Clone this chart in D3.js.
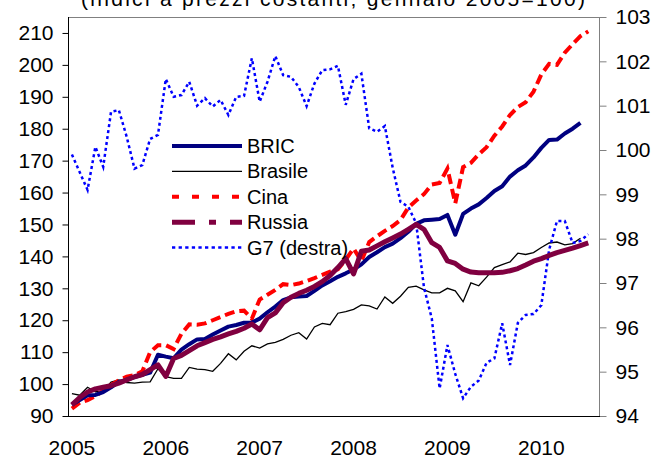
<!DOCTYPE html>
<html>
<head>
<meta charset="utf-8">
<script src="https://cdn.jsdelivr.net/npm/d3@7"></script>
<style>
  body { margin: 0; background: #fff; }
  svg text { font-family: "Liberation Sans", Arial, sans-serif; fill: #000; }
</style>
</head>
<body>
<script>
var width = 666;
var height = 458;

// monthly data, January 2005 = index 0
var years = ["2005", "2006", "2007", "2008", "2009", "2010"];
var leftTicks = [90, 100, 110, 120, 130, 140, 150, 160, 170, 180, 190, 200, 210];
var rightTicks = [94, 95, 96, 97, 98, 99, 100, 101, 102, 103];

var bric = [93.5, 95.0, 96.5, 96.6, 97.5, 99.0, 100.7, 101.3, 102.2, 102.9,
  103.6, 109.2, 108.6, 108.1, 110.8, 112.5, 114.0, 114.1, 115.5, 116.8,
  118.0, 118.5, 119.2, 119.3, 120.5, 122.5, 124.3, 126.3, 127.2, 127.4,
  127.6, 129.2, 130.9, 132.2, 133.6, 134.7, 135.9, 137.5, 139.8, 141.3,
  142.9, 144.0, 145.7, 147.7, 150.2, 151.3, 151.5, 151.7, 153.0, 146.8,
  153.3, 155.0, 156.3, 158.3, 160.5, 162.0, 165.0, 167.0, 168.5, 171.0,
  174.0, 176.5, 176.6, 178.5, 180.0, 181.8];
var brasile = [97.0, 96.5, 99.0, 97.6, 97.8, 100.6, 101.3, 100.5, 100.3, 100.6,
  100.7, 104.8, 102.3, 101.8, 101.8, 105.2, 104.7, 104.5, 104.0, 106.5,
  109.5, 107.6, 110.3, 112.0, 111.3, 112.6, 113.1, 114.0, 115.3, 116.1,
  114.1, 117.9, 119.0, 118.6, 122.2, 122.7, 123.4, 124.8, 124.5, 123.5,
  127.3, 125.3, 127.5, 130.3, 130.7, 129.5, 128.6, 128.6, 130.0, 129.2,
  125.8, 131.7, 130.8, 133.5, 136.5, 137.4, 138.3, 141.0, 140.6, 141.2,
  142.8, 144.2, 144.5, 143.6, 144.0, 145.7];
var cina = [92.3, 94.2, 95.0, 96.2, 98.0, 99.7, 101.2, 102.3, 102.8, 104.0,
  110.0, 112.2, 112.2, 111.0, 115.8, 118.7, 118.6, 119.0, 120.0, 121.0,
  122.0, 122.8, 123.0, 120.5, 126.5, 128.0, 129.5, 131.3, 131.0, 131.5,
  132.3, 133.2, 134.2, 135.2, 136.0, 139.0, 142.5, 138.5, 144.5, 146.3,
  148.0, 149.5, 151.4, 155.3, 157.5, 159.5, 162.5, 163.0, 167.5, 156.6,
  168.0, 169.3, 172.0, 174.2, 177.8, 180.7, 184.3, 186.8, 188.3, 191.6,
  197.0, 200.3, 200.0, 203.8, 206.5, 209.0, 210.5];
var russia = [93.5, 95.8, 97.5, 98.5, 99.0, 99.5, 100.3, 101.3, 102.3, 103.0,
  104.5, 106.0, 102.4, 108.0, 109.0, 110.5, 112.0, 113.0, 114.0, 114.8,
  115.7, 116.5, 117.5, 118.8, 117.0, 120.8, 122.3, 125.5, 127.2, 128.4,
  129.4, 130.6, 132.1, 134.0, 136.5, 139.3, 134.5, 141.6, 142.0, 143.3,
  144.6, 145.8, 147.0, 148.5, 150.0, 148.5, 144.3, 142.8, 138.6, 137.8,
  136.0, 135.1, 134.9, 134.9, 134.9, 135.0, 135.5, 136.2, 137.3, 138.5,
  139.3, 140.3, 141.2, 141.9, 142.6, 143.4, 144.2];
var g7 = [99.9, 99.5, 99.1, 100.07, 99.62, 100.86, 100.9, 100.3, 99.58, 99.66,
  100.25, 100.34, 101.6, 101.2, 101.24, 101.54, 101.0, 101.17, 100.98, 101.13,
  100.79, 101.2, 101.22, 102.07, 101.09, 101.54, 102.12, 101.69, 101.65, 101.42,
  100.99, 101.5, 101.8, 101.82, 101.9, 101.02, 101.6, 101.72, 100.49, 100.41,
  100.54, 99.6, 98.83, 98.72, 98.35, 96.9, 96.2, 94.62, 95.6, 94.95,
  94.4, 94.66, 94.8, 95.2, 95.3, 96.09, 95.15, 96.1, 96.28, 96.3,
  96.5, 97.75, 98.4, 98.4, 97.9, 97.95, 98.1];

// plot area (don't use "top", it clashes with window.top)
var plotL = 68, plotR = 600, plotT = 17, plotB = 416;

var x = d3.scaleLinear().domain([-0.5, 67.5]).range([plotL, plotR]);
var y = d3.scaleLinear().domain([90, 215]).range([plotB, plotT]);
var y2 = d3.scaleLinear().domain([94, 103]).range([plotB, plotT]);

var svg = d3.select("body").append("svg")
    .attr("width", width)
    .attr("height", height);

// cut-off subtitle at the very top
svg.append("text")
  .attr("x", 81)
  .attr("y", 6)
  .attr("textLength", 504)
  .attr("lengthAdjust", "spacing")
  .style("font-size", "21px")
  .text("(indici a prezzi costanti; gennaio 2005=100)");

// frame top
svg.append("line")
  .attr("x1", plotL).attr("x2", plotR)
  .attr("y1", plotT + 0.5).attr("y2", plotT + 0.5)
  .attr("stroke", "#808080").attr("stroke-width", 1);

// left axis
var yAxis = d3.axisLeft(y).tickValues(leftTicks).tickSize(6).tickPadding(9);
var gl = svg.append("g")
  .attr("transform", "translate(" + (plotL + 0.5) + ",0)")
  .call(yAxis);
gl.select(".domain").attr("d", "M0," + plotT + "V" + plotB).attr("stroke", "#000");
gl.selectAll("text").style("font-size", "21px");

// right axis
var yAxis2 = d3.axisRight(y2).tickValues(rightTicks).tickSize(7).tickPadding(9);
var gr = svg.append("g")
  .attr("transform", "translate(" + (plotR - 0.5) + ",0)")
  .call(yAxis2);
gr.select(".domain").attr("d", "M0," + plotT + "V" + plotB).attr("stroke", "#808080");
gr.selectAll(".tick line").attr("stroke", "#808080");
gr.selectAll("text").style("font-size", "21px");

// bottom axis
svg.append("line")
  .attr("x1", plotL).attr("x2", plotR)
  .attr("y1", plotB + 0.5).attr("y2", plotB + 0.5)
  .attr("stroke", "#000").attr("stroke-width", 1.2);

svg.selectAll(".year")
  .data(years)
  .enter()
  .append("text")
  .attr("class", "year")
  .attr("x", function(d, i) { return x(i * 12); })
  .attr("y", 455)
  .attr("text-anchor", "middle")
  .style("font-size", "21px")
  .text(function(d) { return d; });

var line = d3.line()
  .x(function(d, i) { return x(i); })
  .y(function(d) { return y(d); });
var line2 = d3.line()
  .x(function(d, i) { return x(i); })
  .y(function(d) { return y2(d); });

var plot = svg.append("g");

plot.append("path").datum(brasile)
  .attr("d", line)
  .attr("fill", "none").attr("stroke", "#000").attr("stroke-width", 1.3);

plot.append("path").datum(g7)
  .attr("d", line2)
  .attr("fill", "none").attr("stroke", "#0000ff").attr("stroke-width", 2.5)
  .attr("stroke-dasharray", "3,3");

plot.append("path").datum(cina)
  .attr("d", line)
  .attr("fill", "none").attr("stroke", "#ff0000").attr("stroke-width", 4)
  .attr("stroke-dasharray", "10,5");

plot.append("path").datum(bric)
  .attr("d", line)
  .attr("fill", "none").attr("stroke", "#000080").attr("stroke-width", 4)
  .attr("stroke-linejoin", "round");

plot.append("path").datum(russia)
  .attr("d", line)
  .attr("fill", "none").attr("stroke", "#800040").attr("stroke-width", 5)
  .attr("stroke-linejoin", "round");

// legend
var legendItems = [
  {name: "BRIC", color: "#000080", w: 4, dash: null},
  {name: "Brasile", color: "#000", w: 1.3, dash: null},
  {name: "Cina", color: "#ff0000", w: 4, dash: "7,13"},
  {name: "Russia", color: "#800040", w: 5, dash: "23,14,7,14"},
  {name: "G7 (destra)", color: "#0000ff", w: 2.5, dash: "3.3,3.3"}
];
var lg = svg.append("g").attr("transform", "translate(172,146)");
var row = lg.selectAll(".leg")
  .data(legendItems)
  .enter()
  .append("g")
  .attr("class", "leg")
  .attr("transform", function(d, i) { return "translate(0," + (i * 25.4) + ")"; });
row.append("line")
  .attr("x1", 0).attr("x2", 70)
  .attr("stroke", function(d) { return d.color; })
  .attr("stroke-width", function(d) { return d.w; })
  .attr("stroke-dasharray", function(d) { return d.dash; });
row.append("text")
  .attr("x", 75)
  .attr("dy", "0.35em")
  .style("font-size", "20px")
  .text(function(d) { return d.name; });
</script>
</body>
</html>
